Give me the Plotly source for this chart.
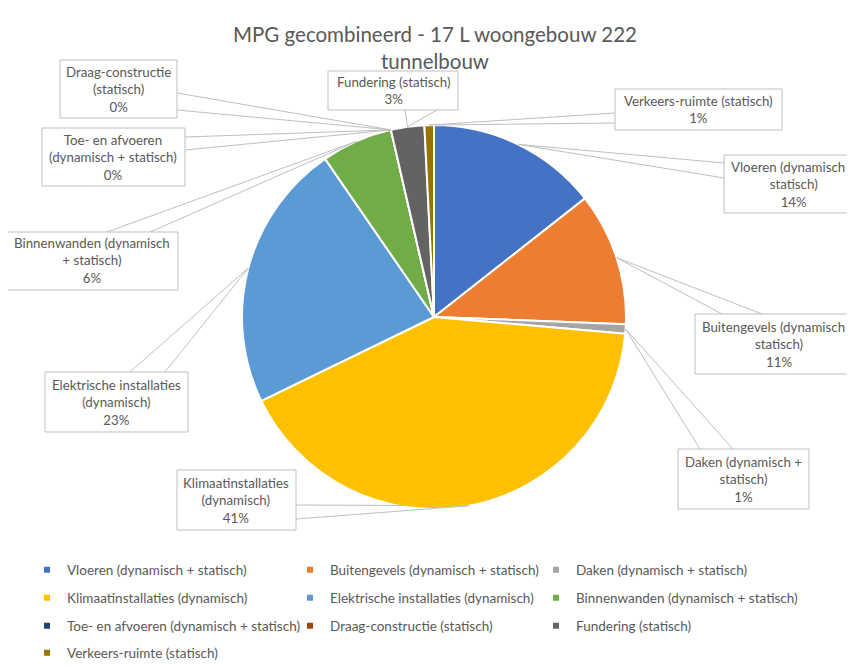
import numpy as np
import plotly.graph_objects as go

W, H = 855, 668
OFF = 8  # page margin around the figure in the browser

categories = [
    "Vloeren (dynamisch + statisch)",
    "Buitengevels (dynamisch + statisch)",
    "Daken (dynamisch + statisch)",
    "Klimaatinstallaties (dynamisch)",
    "Elektrische installaties (dynamisch)",
    "Binnenwanden (dynamisch + statisch)",
    "Toe- en afvoeren (dynamisch + statisch)",
    "Draag-constructie (statisch)",
    "Fundering (statisch)",
    "Verkeers-ruimte (statisch)",
]
shares = [14.4, 11.2, 0.8, 41.4, 22.6, 6.0, 0.0, 0.0, 2.8, 0.8]

colors = ["#4472C4", "#ED7D31", "#A5A5A5", "#FFC000", "#5B9BD5",
          "#70AD47", "#264478", "#9E480E", "#636363", "#997300"]

# wrapped label text for the callouts (percentage is appended from data)
wrapped = [
    "Vloeren (dynamisch +<br>statisch)",
    "Buitengevels (dynamisch +<br>statisch)",
    "Daken (dynamisch +<br>statisch)",
    "Klimaatinstallaties<br>(dynamisch)",
    "Elektrische installaties<br>(dynamisch)",
    "Binnenwanden (dynamisch<br>+ statisch)",
    "Toe- en afvoeren<br>(dynamisch + statisch)",
    "Draag-constructie<br>(statisch)",
    "Fundering (statisch)",
    "Verkeers-ruimte (statisch)",
]

# callout boxes in pixels: (left, top, right, bottom, text center x, side, a, b)
boxes = [
    (724, 155, 866, 213, 794, "left", 163, 178),
    (695, 314, 864, 374, 779, "top", 722, 762),
    (678, 449, 809, 509, 743, "top", 700, 733),
    (177, 470, 296, 530, 236, "right", 505, 519),
    (45, 372, 188, 432, 116, "top", 130, 165),
    (6, 232, 178, 290, 92, "top", 107, 150),
    (42, 128, 185, 186, 113, "right", 137, 150),
    (60, 60, 177, 118, 118, "right", 93, 110),
    (328, 71, 458, 110, 393, "bottom", 405, 437),
    (615, 89, 782, 130, 698, "left", 113, 123),
]

FONT = "Lato, 'Open Sans', sans-serif"
GREY_TXT = "#595959"
GREY_LINE = "#BFBFBF"

cx, cy, r = 434, 317, 192


def px(x):
    return (x - OFF) / W


def py(y):
    return 1 - (y - OFF) / H


fig = go.Figure()
fig.add_trace(go.Pie(
    labels=categories,
    values=shares,
    marker=dict(colors=colors, line=dict(color="white", width=2)),
    sort=False,
    direction="clockwise",
    rotation=0,
    textinfo="none",
    showlegend=False,
    domain=dict(x=[px(cx - r), px(cx + r)], y=[py(cy + r), py(cy - r)]),
))

# legend: one small legend per entry, laid out in a 3-column grid
col_x = [27, 290, 536]
row_y = [570, 598, 626, 653]
legends = {}
for i, (name, c) in enumerate(zip(categories, colors)):
    key = "legend" if i == 0 else f"legend{i + 1}"
    fig.add_trace(go.Scatter(
        x=[None], y=[None], mode="markers", name=name,
        marker=dict(symbol="square", size=6, color=c),
        legend=key,
    ))
    legends[key] = dict(
        orientation="h", xanchor="left", yanchor="middle",
        x=px(col_x[i % 3]), y=py(row_y[i // 3]),
        font=dict(family=FONT, size=13.5, color=GREY_TXT),
        bgcolor="rgba(0,0,0,0)",
    )

total = sum(shares)
cum = np.cumsum([0] + shares)
shapes = []
annotations = []
for i, v in enumerate(shares):
    theta = 2 * np.pi * (cum[i] + v / 2) / total
    ax = cx + r * np.sin(theta)
    ay = cy - r * np.cos(theta)
    l, t, rr, b, tx, side, a1, a2 = boxes[i]
    if side == "left":
        p1, p2 = (l, a1), (l, a2)
    elif side == "right":
        p1, p2 = (rr, a1), (rr, a2)
    elif side == "top":
        p1, p2 = (a1, t), (a2, t)
    else:
        p1, p2 = (a1, b), (a2, b)
    shapes.append(dict(
        type="path", xref="paper", yref="paper", layer="above",
        path=f"M {px(p1[0])} {py(p1[1])} L {px(ax)} {py(ay)} L {px(p2[0])} {py(p2[1])}",
        line=dict(color=GREY_LINE, width=1),
    ))
    shapes.append(dict(
        type="rect", xref="paper", yref="paper", layer="above",
        x0=px(l), x1=px(rr), y0=py(b), y1=py(t),
        line=dict(color=GREY_LINE, width=1), fillcolor="white",
    ))
    annotations.append(dict(
        x=px(tx), y=py((t + b) / 2), xref="paper", yref="paper",
        xanchor="center", yanchor="middle", showarrow=False, align="center",
        text=f"{wrapped[i]}<br>{v / total:.0%}",
        font=dict(family=FONT, size=13.3, color=GREY_TXT),
    ))

# chart area border
shapes.append(dict(
    type="path", xref="paper", yref="paper", layer="above",
    path=f"M {px(5.5)} {py(H + 20)} L {px(5.5)} {py(6)} L {px(W + 20)} {py(6)}",
    line=dict(color="#D9D9D9", width=1.5),
))

fig.update_layout(
    width=W, height=H,
    margin=dict(l=0, r=0, t=0, b=0),
    paper_bgcolor="white", plot_bgcolor="white",
    title=dict(
        text="MPG gecombineerd - 17 L woongebouw 222<br>tunnelbouw",
        x=px(435), xanchor="center", y=py(42), yanchor="top",
        font=dict(family=FONT, size=20.5, color=GREY_TXT),
    ),
    xaxis=dict(visible=False), yaxis=dict(visible=False),
    shapes=shapes,
    annotations=annotations,
    **legends,
)

fig.write_html("out.html")
